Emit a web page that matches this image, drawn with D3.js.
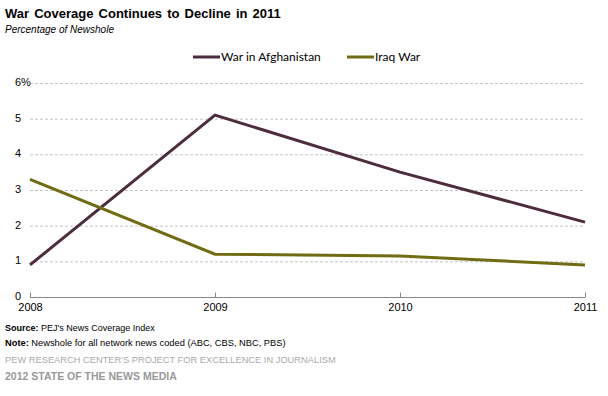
<!DOCTYPE html>
<html>
<head>
<meta charset="utf-8">
<script src="https://cdn.jsdelivr.net/npm/d3@7"></script>
<style>
  body { margin: 0; background: #fff; }
  text { font-family: "Liberation Sans", Arial, sans-serif; }
</style>
</head>
<body>
<div id="chart"></div>
<script>
// data
var years = [2008, 2009, 2010, 2011];
var afghanistan = [0.9, 5.1, 3.5, 2.1];
var iraq = [3.3, 1.2, 1.15, 0.9];
var yTicks = [0, 1, 2, 3, 4, 5, 6];
var seriesNames = ["War in Afghanistan", "Iraq War"];
var seriesColors = ["#4d2c3d", "#716c14"];

var width = 608, height = 396;
var margin = {top: 83, right: 23, bottom: 99, left: 30};

var svg = d3.select("#chart")
  .append("svg")
  .attr("width", width)
  .attr("height", height);

// title + subtitle
svg.append("text")
  .attr("x", 5).attr("y", 18)
  .style("font-size", "13px")
  .style("font-weight", "bold")
  .style("word-spacing", "1.5px")
  .text("War Coverage Continues to Decline in 2011");
svg.append("text")
  .attr("x", 5).attr("y", 33)
  .style("font-size", "10px")
  .style("font-style", "italic")
  .text("Percentage of Newshole");

var x = d3.scalePoint()
  .domain(years)
  .range([margin.left, width - margin.right]);

var y = d3.scaleLinear()
  .domain([0, 6])
  .range([height - margin.bottom, margin.top]);

// dashed gridlines
svg.selectAll("gridLines")
  .data(yTicks.filter(function(d){ return d > 0; }))
  .enter()
  .append("line")
    .attr("x1", margin.left)
    .attr("x2", width - margin.right)
    .attr("y1", function(d){ return y(d) + 0.5; })
    .attr("y2", function(d){ return y(d) + 0.5; })
    .attr("stroke", "#c4c4c4")
    .attr("stroke-dasharray", "3,2");

// y labels (left aligned)
svg.selectAll("yLabels")
  .data(yTicks)
  .enter()
  .append("text")
    .attr("x", 15)
    .attr("y", function(d){ return y(d) + 3; })
    .style("font-size", "11px")
    .text(function(d){ return d === 6 ? d + "%" : d; });

// x axis
var xAxis = svg.append("g")
  .attr("transform", "translate(0," + (y(0) + 0.5) + ")")
  .call(d3.axisBottom(x).tickSize(6).tickSizeOuter(0));
xAxis.select(".domain").attr("stroke", "#888").attr("d", "M" + margin.left + ",0H" + (width - margin.right));
xAxis.selectAll(".tick line").attr("stroke", "#888").attr("y1", 0).attr("y2", -5);
xAxis.selectAll(".tick text")
  .attr("y", 6)
  .style("font-family", "'Liberation Sans', Arial, sans-serif")
  .style("font-size", "11px")
  .attr("fill", "#000");

// lines
var line = d3.line()
  .x(function(d, i){ return x(years[i]); })
  .y(function(d){ return y(d); });

[afghanistan, iraq].forEach(function(vals, i){
  svg.append("path")
    .datum(vals)
    .attr("d", line)
    .attr("fill", "none")
    .attr("stroke", seriesColors[i])
    .attr("stroke-width", 3);
});

// legend
var legendX = [193, 347];
seriesNames.forEach(function(name, i){
  svg.append("line")
    .attr("x1", legendX[i]).attr("x2", legendX[i] + 27)
    .attr("y1", 57).attr("y2", 57)
    .attr("stroke", seriesColors[i])
    .attr("stroke-width", 3);
  svg.append("text")
    .attr("x", legendX[i] + 28).attr("y", 61)
    .style("font-family", "Lato, 'Open Sans', sans-serif")
    .style("font-size", "12px")
    .text(name);
});

// footer
var src = svg.append("text").attr("x", 5).attr("y", 331).style("font-size", "9px");
src.append("tspan").style("font-weight", "bold").text("Source:");
src.append("tspan").text(" PEJ's News Coverage Index");
var note = svg.append("text").attr("x", 5).attr("y", 346).style("font-size", "9.3px");
note.append("tspan").style("font-weight", "bold").text("Note:");
note.append("tspan").text(" Newshole for all network news coded (ABC, CBS, NBC, PBS)");
svg.append("text")
  .attr("x", 5).attr("y", 363)
  .style("font-size", "9.3px")
  .attr("fill", "#aaa")
  .text("PEW RESEARCH CENTER'S PROJECT FOR EXCELLENCE IN JOURNALISM");
svg.append("text")
  .attr("x", 5).attr("y", 380)
  .style("font-size", "10.5px")
  .style("font-weight", "bold")
  .attr("fill", "#999")
  .text("2012 STATE OF THE NEWS MEDIA");
</script>
</body>
</html>
